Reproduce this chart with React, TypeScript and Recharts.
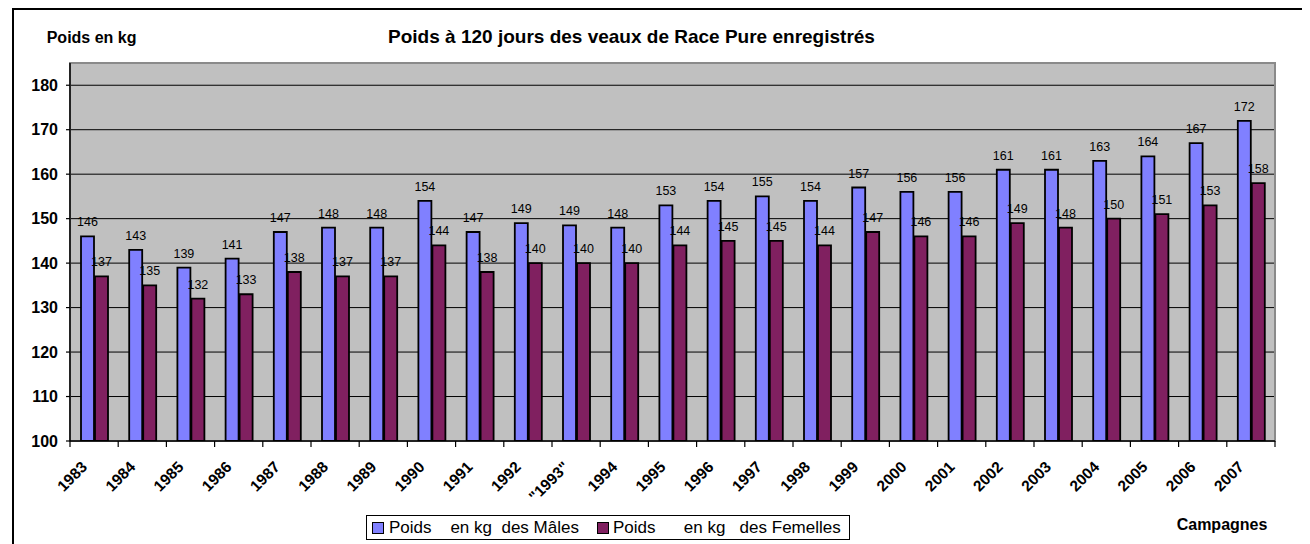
import React from 'react';
import { BarChart, Bar, XAxis, YAxis, CartesianGrid, LabelList, ReferenceArea } from 'recharts';

const years = ['1983', '1984', '1985', '1986', '1987', '1988', '1989', '1990', '1991', '1992', '"1993"', '1994', '1995', '1996', '1997', '1998', '1999', '2000', '2001', '2002', '2003', '2004', '2005', '2006', '2007'];
const males = [146, 143, 139, 141, 147, 148, 148, 154, 147, 149, 148.5, 148, 153, 154, 155, 154, 157, 156, 156, 161, 161, 163, 164, 167, 172];
const females = [137, 135, 132, 133, 138, 137, 137, 144, 138, 140, 140, 140, 144, 145, 145, 144, 147, 146, 146, 149, 148, 150, 151, 153, 158];
const yTicks = [100, 110, 120, 130, 140, 150, 160, 170, 180];

const maleLabel = 'Poids    en kg  des Mâles';
const femaleLabel = 'Poids      en kg   des Femelles';
const title = 'Poids à 120 jours des veaux de Race Pure enregistrés';

const data = years.map((y, i) => ({ year: y, m: males[i], f: females[i] }));

const FONT = '"Liberation Sans", Arial, sans-serif';

const XTick = (props: any) => {
  const { x, y, payload, index, visibleTicksCount } = props;
  const half = payload && typeof payload.offset === 'number' && payload.offset > 0 ? payload.offset : 24.1;
  const isLast = index === (visibleTicksCount ?? years.length) - 1;
  const bx = x - 6;
  const by = y + 19;
  return (
    <g>
      <line x1={x - half} x2={x - half} y1={y - 8} y2={y - 2} stroke="#000" strokeWidth={1.2} />
      {isLast && <line x1={x + half} x2={x + half} y1={y - 8} y2={y - 2} stroke="#000" strokeWidth={1.2} />}
      <text
        x={bx}
        y={by}
        transform={`rotate(-45, ${bx}, ${by})`}
        textAnchor="end"
        fontFamily={FONT}
        fontWeight="bold"
        fontSize={15.5}
        fill="#000"
      >
        {payload.value}
      </text>
    </g>
  );
};

const YTick = (props: any) => {
  const { x, y, payload } = props;
  if (!payload || Number(payload.value) > 180) return <g />;
  return (
    <g>
      <line x1={x + 8} x2={x + 12} y1={y} y2={y} stroke="#000" strokeWidth={1.2} />
      <text
        x={x}
        y={y}
        dy={5.5}
        textAnchor="end"
        fontFamily={FONT}
        fontWeight="bold"
        fontSize={16}
        fill="#000"
      >
        {payload.value}
      </text>
    </g>
  );
};

const Swatch = ({ color, left }: { color: string; left: number }) => (
  <span
    style={{
      position: 'absolute',
      left,
      top: 6,
      width: 10,
      height: 10,
      background: color,
      border: '1.5px solid #000',
    }}
  />
);

export default function App() {
  return (
    <div style={{ position: 'relative', width: 1302, height: 536, overflow: 'hidden', fontFamily: FONT }}>
      <div
        style={{
          position: 'absolute',
          left: 4,
          top: 0,
          width: 1400,
          height: 700,
          borderTop: '2px solid #000',
          borderLeft: '2px solid #000',
          boxSizing: 'border-box',
        }}
      />
      <div style={{ position: 'absolute', left: 0, top: 0 }}>
        <BarChart
          width={1302}
          height={536}
          data={data}
          margin={{ top: 55, right: 35, left: 12, bottom: 43 }}
          barSize={13}
          barGap={1}
        >
          <CartesianGrid
            vertical={false}
            horizontalValues={yTicks}
            stroke="#000"
            strokeWidth={1}
            fill="#C0C0C0"
            fillOpacity={1}
          />
          <ReferenceArea y1={100} y2={185} fill="none" stroke="#8a8a8a" strokeWidth={2} ifOverflow="visible" />
          <XAxis
            dataKey="year"
            interval={0}
            tick={<XTick />}
            tickLine={false}
            axisLine={{ stroke: '#000', strokeWidth: 1.5 }}
            height={60}
          />
          <YAxis
            type="number"
            domain={[100, 185]}
            ticks={yTicks}
            interval={0}
            allowDataOverflow
            width={50}
            tickSize={4}
            tickMargin={8}
            tickLine={false}
            axisLine={{ stroke: '#000', strokeWidth: 1.5 }}
            tick={<YTick />}
          />
          <Bar dataKey="m" fill="#8080FF" stroke="#000" strokeWidth={1.8} isAnimationActive={false}>
            <LabelList
              dataKey="m"
              position="top"
              offset={10}
              formatter={(v: any) => Math.round(Number(v))}
              style={{ fill: '#000', fontFamily: FONT, fontSize: 12.5 }}
            />
          </Bar>
          <Bar dataKey="f" fill="#802060" stroke="#000" strokeWidth={1.8} isAnimationActive={false}>
            <LabelList
              dataKey="f"
              position="top"
              offset={10}
              formatter={(v: any) => Math.round(Number(v))}
              style={{ fill: '#000', fontFamily: FONT, fontSize: 12.5 }}
            />
          </Bar>
        </BarChart>
      </div>
      <div
        style={{
          position: 'absolute',
          left: 323.5,
          width: 600,
          top: 19,
          textAlign: 'center',
          fontSize: 19,
          lineHeight: '19px',
          fontWeight: 'bold',
          whiteSpace: 'nowrap',
        }}
      >
        {title}
      </div>
      <div
        style={{
          position: 'absolute',
          left: 38.7,
          top: 22,
          fontSize: 16,
          lineHeight: '16px',
          fontWeight: 'bold',
          whiteSpace: 'nowrap',
        }}
      >
        Poids en kg
      </div>
      <div
        style={{
          position: 'absolute',
          left: 1168.7,
          top: 509,
          fontSize: 16,
          lineHeight: '16px',
          fontWeight: 'bold',
          whiteSpace: 'nowrap',
        }}
      >
        Campagnes
      </div>
      <div
        style={{
          position: 'absolute',
          left: 358,
          top: 507,
          width: 484,
          height: 25,
          border: '1.5px solid #000',
          boxSizing: 'border-box',
          background: '#fff',
          fontSize: 17,
          whiteSpace: 'pre',
        }}
      >
        <Swatch color="#8080FF" left={5} />
        <span style={{ position: 'absolute', left: 22, top: 1.5, lineHeight: '20px' }}>{maleLabel}</span>
        <Swatch color="#802060" left={230} />
        <span style={{ position: 'absolute', left: 246, top: 1.5, lineHeight: '20px' }}>{femaleLabel}</span>
      </div>
    </div>
  );
}
